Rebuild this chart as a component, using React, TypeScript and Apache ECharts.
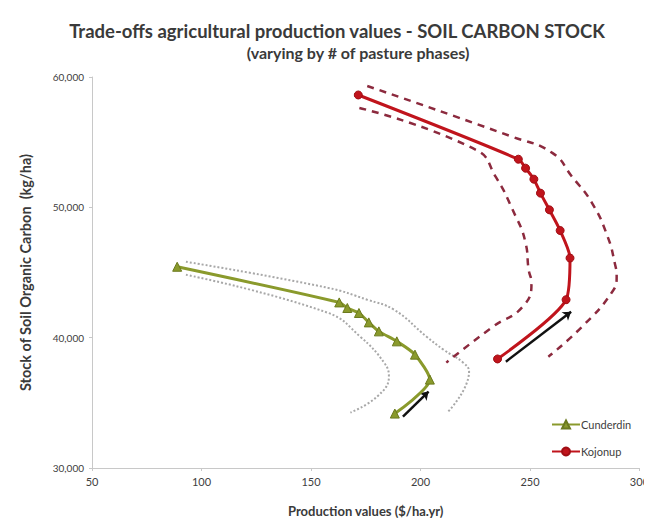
import React, { useEffect, useRef } from "react";
import * as echarts from "echarts";

const xTicks = [50, 100, 150, 200, 250, 300];
const yTicks = [30000, 40000, 50000, 60000];

const cunderdinX = [88.9, 162.9, 166.6, 171.9, 176.4, 181.0, 189.2, 197.5, 204.3, 188.3];
const cunderdinY = [45440, 42705, 42276, 41893, 41173, 40483, 39717, 38697, 36781, 34176];

const kojonupX = [171.6, 244.7, 248.0, 251.8, 254.8, 258.9, 263.8, 268.3, 266.5, 235.2];
const kojonupY = [58620, 53693, 53004, 52161, 51088, 49808, 48222, 46107, 42912, 38367];

const cunOuterX = [92.9, 157.6, 175.7, 187.9, 202.8, 210.5, 219.5, 222.2, 212.7];
const cunOuterY = [45823, 43831, 42911, 42145, 40076, 39080, 38084, 37394, 34329];
const cunInnerX = [92.9, 157.6, 172.5, 183.4, 185.6, 180.2, 168.0];
const cunInnerY = [44827, 41915, 40076, 38084, 37011, 35479, 34253];

const kojOuterX = [175.7, 242.1, 260.2, 269.3, 278.3, 285.5, 288.7, 289.6, 287.3, 273.8, 258.4];
const kojOuterY = [59310, 55402, 54176, 52337, 50345, 47740, 45747, 44674, 43448, 40843, 38544];
const kojInnerX = [172.1, 225.4, 234.4, 242.1, 248.0, 249.4, 250.7, 246.7, 233.1, 211.8];
const kojInnerY = [57624, 54406, 52337, 49808, 47280, 45211, 44214, 42375, 40843, 38084];

const cunArrowX = [192.0, 203.7];
const cunArrowY = [33946, 35862];
const kojArrowX = [239.0, 268.8];
const kojArrowY = [38161, 41992];

const zip = (xs: number[], ys: number[]) => xs.map((x, i) => [x, ys[i]]);

export default function App() {
  const ref = useRef<HTMLDivElement>(null);
  useEffect(() => {
    if (!ref.current) return;
    const chart = echarts.init(ref.current, undefined, { renderer: "svg" });
    const green = "#8a9a2c";
    const red = "#c0141c";
    const maroon = "#8c2a3e";
    const gray = "#a8a8a8";
    chart.setOption({
      animation: false,
      backgroundColor: "#ffffff",
      title: [
        {
          text: "Trade-offs agricultural production values - SOIL CARBON STOCK",
          left: 332,
          textAlign: "center",
          top: 16,
          textStyle: {
            fontFamily: "Lato",
            fontWeight: "bold",
            fontSize: 18.5,
            color: "#3a3a3a",
          },
        },
        {
          text: "(varying by # of pasture phases)",
          left: 353,
          textAlign: "center",
          top: 39,
          textStyle: {
            fontFamily: "Lato",
            fontWeight: "bold",
            fontSize: 16,
            color: "#3a3a3a",
          },
        },
      ],
      grid: { left: 92, right: 8, top: 77, bottom: 58 },
      legend: {
        data: ["Cunderdin", "Kojonup"],
        orient: "vertical",
        left: 546,
        top: 414,
        itemWidth: 28,
        itemHeight: 10,
        itemGap: 16,
        textStyle: { fontFamily: "Lato", fontSize: 11, color: "#404040", padding: [0, 0, 0, -4] },
      },
      xAxis: {
        type: "value",
        min: xTicks[0],
        max: xTicks[xTicks.length - 1],
        interval: 50,
        name: "Production values ($/ha.yr)",
        nameLocation: "middle",
        nameGap: 36,
        nameTextStyle: { fontFamily: "Lato", fontWeight: "bold", fontSize: 13, color: "#3a3a3a" },
        axisLine: { lineStyle: { color: "#c8c8c8" } },
        axisTick: { show: true, length: 3, lineStyle: { color: "#c8c8c8" } },
        splitLine: { show: false },
        axisLabel: { fontFamily: "Lato", fontSize: 11, color: "#404040", margin: 8 },
      },
      yAxis: {
        type: "value",
        min: yTicks[0],
        max: yTicks[yTicks.length - 1],
        interval: 10000,
        name: "Stock of Soil Organic Carbon  (kg/ha)",
        nameLocation: "middle",
        nameGap: 59,
        nameTextStyle: { fontFamily: "Lato", fontWeight: "bold", fontSize: 14.5, color: "#3a3a3a" },
        axisLine: { show: true, lineStyle: { color: "#c8c8c8" } },
        axisTick: { show: true, length: 3, lineStyle: { color: "#c8c8c8" } },
        splitLine: { show: false },
        axisLabel: {
          fontFamily: "Lato",
          fontSize: 10,
          color: "#404040",
          margin: 8,
          formatter: (v: number) => v.toLocaleString("en-US"),
        },
      },
      series: [
        {
          name: "cunOuter",
          type: "line",
          data: zip(cunOuterX, cunOuterY),
          smooth: 0.45,
          showSymbol: false,
          lineStyle: { color: gray, width: 2, type: "dotted" },
        },
        {
          name: "cunInner",
          type: "line",
          data: zip(cunInnerX, cunInnerY),
          smooth: 0.45,
          showSymbol: false,
          lineStyle: { color: gray, width: 2, type: "dotted" },
        },
        {
          name: "kojOuter",
          type: "line",
          data: zip(kojOuterX, kojOuterY),
          smooth: 0.5,
          showSymbol: false,
          lineStyle: { color: maroon, width: 2.5, type: [7, 6] },
        },
        {
          name: "kojInner",
          type: "line",
          data: zip(kojInnerX, kojInnerY),
          smooth: 0.5,
          showSymbol: false,
          lineStyle: { color: maroon, width: 2.5, type: [7, 6] },
        },
        {
          name: "Cunderdin",
          type: "line",
          data: zip(cunderdinX, cunderdinY),
          smooth: 0.25,
          symbol: "triangle",
          symbolSize: 9,
          itemStyle: { color: green, borderColor: "#6b7a1e", borderWidth: 1 },
          lineStyle: { color: green, width: 3 },
        },
        {
          name: "Kojonup",
          type: "line",
          data: zip(kojonupX, kojonupY),
          smooth: 0.25,
          symbol: "circle",
          symbolSize: 8,
          itemStyle: { color: red, borderColor: "#a00e14", borderWidth: 1 },
          lineStyle: { color: red, width: 3 },
        },
        {
          name: "arrows",
          type: "lines",
          coordinateSystem: "cartesian2d",
          symbol: ["none", "arrow"],
          symbolSize: 8,
          lineStyle: { color: "#111111", width: 2.5, opacity: 1 },
          data: [
            { coords: zip(cunArrowX, cunArrowY) },
            { coords: zip(kojArrowX, kojArrowY) },
          ],
        },
      ],
    });
    return () => chart.dispose();
  }, []);
  return <div ref={ref} style={{ width: 652, height: 526, margin: -8 }} />;
}
